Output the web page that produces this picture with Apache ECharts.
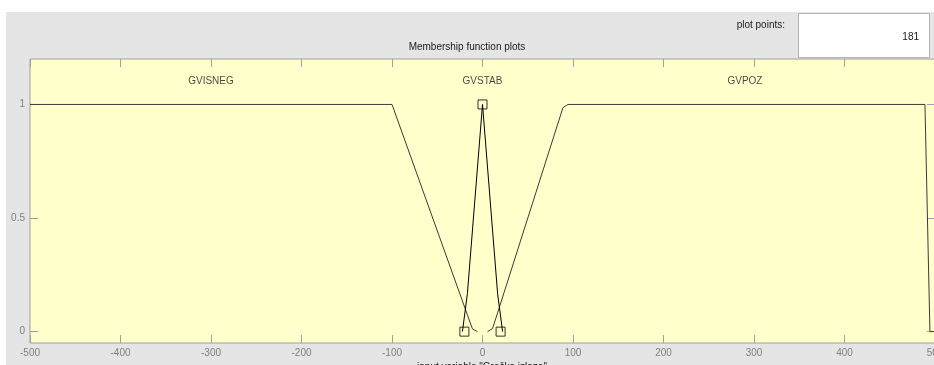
<!DOCTYPE html>
<html><head><meta charset="utf-8">
<script src="https://cdn.jsdelivr.net/npm/echarts@6/dist/echarts.min.js"></script>
<style>
html,body{margin:0;padding:0;background:#ffffff;overflow:hidden;}
#bg{position:absolute;left:6px;top:12px;width:928px;height:353px;background:#e5e5e5;}
#c{position:absolute;left:0;top:0;width:934px;height:365px;}
</style>
</head><body><div id="bg"></div><div id="c"></div>
<script>
// ---- data ----
const xTicks = [-500, -400, -300, -200, -100, 0, 100, 200, 300, 400, 500];
const yTicks = [0, 0.5, 1];
const mfNames = ['GVISNEG', 'GVSTAB', 'GVPOZ'];
const mfLabelX = [-300, 0, 290];
const mfLabelY = [1.1, 1.1, 1.1];
const gvisnegX = [-500, -100, -16.7, -11.1, -5.6];
const gvisnegY = [1, 1, 0.074, 0.012, 0];
const gvstabX = [-22.2, -16.7, 0, 16.7, 22.2];
const gvstabY = [0, 0.167, 1, 0.167, 0];
const gvpozX = [5.6, 11.1, 16.7, 88.9, 94.4, 488.9, 494.4, 500];
const gvpozY = [0, 0.014, 0.083, 0.986, 1, 1, 0, 0];
const paramX = [-20, 0, 20];
const paramY = [0, 1, 0];
const plotPoints = '181';

const FONT = '"Liberation Sans", Arial, sans-serif';
const pairs = (xs, ys) => xs.map((x, i) => [x, ys[i]]);

const chart = echarts.init(document.getElementById('c'), null, {renderer: 'canvas'});
const tickStyle = {color: '#a0a0a0', width: 1};
const xCommon = {
  type: 'value', min: xTicks[0], max: xTicks[xTicks.length - 1], interval: 100,
  axisLine: {show: false, onZero: false}, splitLine: {show: false},
  axisTick: {show: true, inside: true, length: 8, lineStyle: tickStyle}
};
const yCommon = {
  type: 'value', min: -0.05, max: 1.2,
  axisLine: {show: false, onZero: false}, splitLine: {show: false},
  axisTick: {show: true, inside: true, length: 8, customValues: yTicks, lineStyle: tickStyle}
};
const line = (name, xs, ys, color) => ({
  name, type: 'line', data: pairs(xs, ys), symbol: 'none', animation: false,
  lineStyle: {color, width: 1}, z: 3
});

chart.setOption({
  animation: false,
  backgroundColor: 'transparent',
  grid: {left: 30, top: 59, width: 905, height: 284, show: true, containLabel: false,
         outerBoundsMode: 'none',
         backgroundColor: '#ffffcc', borderColor: '#a0a0a0', borderWidth: 1},
  xAxis: [
    Object.assign({}, xCommon, {position: 'bottom',
      axisLabel: {show: true, fontSize: 10, color: '#808080', margin: 5, fontFamily: FONT}}),
    Object.assign({}, xCommon, {position: 'top', axisLabel: {show: false}})
  ],
  yAxis: [
    Object.assign({}, yCommon, {position: 'left',
      axisLabel: {show: true, customValues: yTicks, fontSize: 10, color: '#808080', margin: 5,
                  fontFamily: FONT, formatter: v => String(v)}}),
    Object.assign({}, yCommon, {position: 'right', axisLabel: {show: false}})
  ],
  series: [
    line('GVISNEG', gvisnegX, gvisnegY, '#3a3a3a'),
    line('GVPOZ', gvpozX, gvpozY, '#3a3a3a'),
    line('GVSTAB', gvstabX, gvstabY, '#000000'),
    {
      type: 'scatter', data: pairs(paramX, paramY), symbol: 'rect', symbolSize: 9,
      itemStyle: {color: 'rgba(0,0,0,0)', borderColor: '#000', borderWidth: 1}, z: 4, animation: false
    },
    {
      type: 'scatter', symbolSize: 1, animation: false, silent: true,
      itemStyle: {color: 'rgba(0,0,0,0)'},
      data: mfNames.map((n, i) => ({name: n, value: [mfLabelX[i], mfLabelY[i]]})),
      label: {show: true, position: 'inside', formatter: '{b}', fontSize: 10,
              color: '#1a1a1a', fontFamily: FONT}
    }
  ],
  graphic: [
    {type: 'text', left: 'center', top: 42,
     style: {text: 'Membership function plots', fill: '#1a1a1a', font: '10px ' + FONT}},
    {type: 'text', right: 149, top: 20,
     style: {text: 'plot points:', fill: '#1a1a1a', font: '10px ' + FONT}},
    {type: 'rect', shape: {x: 798.5, y: 13.5, width: 131, height: 44},
     style: {fill: '#ffffff', stroke: '#b4b4b4', lineWidth: 1}},
    {type: 'text', x: 919, y: 32,
     style: {text: plotPoints, fill: '#1a1a1a', font: '10px ' + FONT, align: 'right'}},
    {type: 'text', x: 482, y: 362,
     style: {text: 'input variable "Greška izlaza"', fill: '#1a1a1a', font: '10px ' + FONT, align: 'center'}}
  ]
});
</script>
</body></html>
